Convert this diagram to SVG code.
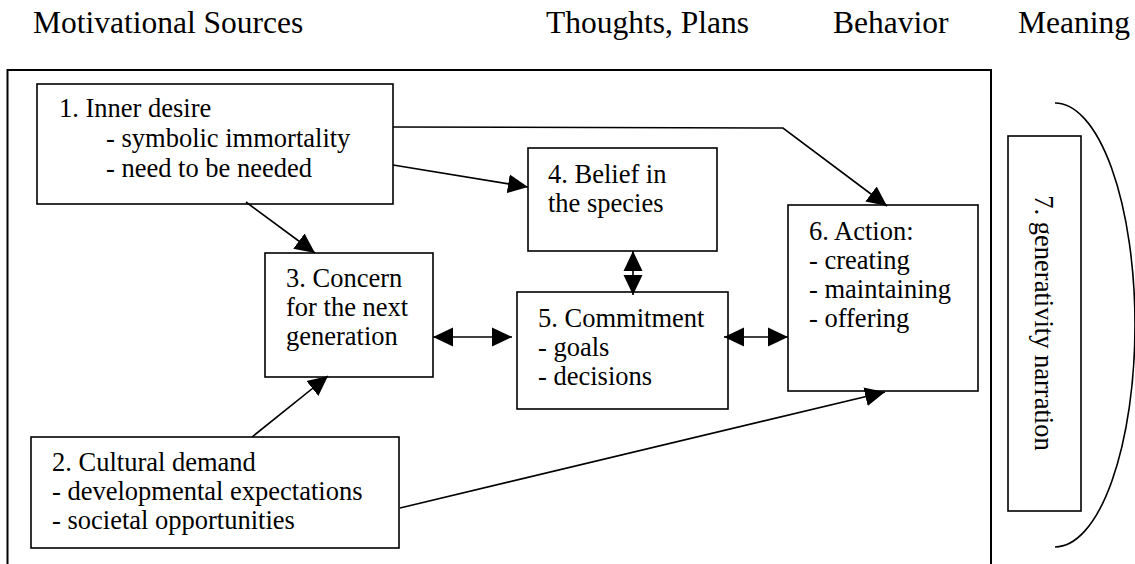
<svg xmlns="http://www.w3.org/2000/svg" width="1135" height="564" viewBox="0 0 1135 564">
  <style>
    text { font-family: "Liberation Serif", "Times New Roman", serif; font-size: 26.5px; fill: #000; }
    .head { font-size: 31.5px; }
    .box { fill: #fff; stroke: #000; stroke-width: 1.6; }
    .frame { fill: none; stroke: #000; stroke-width: 2; }
    .link { fill: none; stroke: #000; stroke-width: 1.6; }
  </style>
  <defs>
    <marker id="head" markerUnits="userSpaceOnUse" markerWidth="20" markerHeight="20" viewBox="0 0 20 20" refX="20" refY="10" orient="auto-start-reverse">
      <path d="M0,0.5 L20,10 L0,19.5 z" fill="#000"/>
    </marker>
  </defs>

  <rect width="1135" height="564" fill="#fff"/>

  <!-- column headings -->
  <g id="headings">
    <text class="head" x="33" y="33">Motivational Sources</text>
    <text class="head" x="546" y="33">Thoughts, Plans</text>
    <text class="head" x="833" y="33">Behavior</text>
    <text class="head" x="1018" y="33">Meaning</text>
  </g>

  <!-- outer frame, open at the bottom -->
  <path class="frame" d="M7.5,570 V70 H991 V570"/>

  <g id="n1">
    <rect class="box" x="37" y="84" width="356" height="120"/>
    <text x="59" y="117">1. Inner desire</text>
    <text x="106" y="147">- symbolic immortality</text>
    <text x="106" y="177">- need to be needed</text>
  </g>

  <g id="n2">
    <rect class="box" x="31" y="437" width="368" height="111"/>
    <text x="52" y="471">2. Cultural demand</text>
    <text x="52" y="500">- developmental expectations</text>
    <text x="52" y="529">- societal opportunities</text>
  </g>

  <g id="n3">
    <rect class="box" x="265" y="253" width="168" height="124"/>
    <text x="286" y="287">3. Concern</text>
    <text x="286" y="316">for the next</text>
    <text x="286" y="345">generation</text>
  </g>

  <g id="n4">
    <rect class="box" x="528" y="148" width="189" height="103"/>
    <text x="548" y="183">4. Belief in</text>
    <text x="548" y="212">the species</text>
  </g>

  <g id="n5">
    <rect class="box" x="517" y="292" width="211" height="117"/>
    <text x="538" y="327">5. Commitment</text>
    <text x="538" y="356">- goals</text>
    <text x="538" y="385">- decisions</text>
  </g>

  <g id="n6">
    <rect class="box" x="788" y="205" width="190" height="186"/>
    <text x="809" y="240">6. Action:</text>
    <text x="809" y="269">- creating</text>
    <text x="809" y="298">- maintaining</text>
    <text x="809" y="327">- offering</text>
  </g>

  <g id="n7">
    <rect class="box" x="1008" y="136" width="73" height="375"/>
    <text transform="translate(1035,323) rotate(90)" text-anchor="middle">7. generativity narration</text>
    <path class="link" d="M1055,103 A80,222 0 0 1 1055,547"/>
  </g>

  <g id="connectors">
    <path class="link" d="M393,127 L783,128 L887,206" marker-end="url(#head)"/>
    <path class="link" d="M393,165 L528,187" marker-end="url(#head)"/>
    <path class="link" d="M246,202 L315,253" marker-end="url(#head)"/>
    <path class="link" d="M252,437 L328,376" marker-end="url(#head)"/>
    <path class="link" d="M400,508 L885,392" marker-end="url(#head)"/>
    <path class="link" d="M433,337 L512,337" marker-start="url(#head)" marker-end="url(#head)"/>
    <path class="link" d="M724,337 L788,337" marker-start="url(#head)" marker-end="url(#head)"/>
    <path class="link" d="M633,251 L633,295" marker-start="url(#head)" marker-end="url(#head)"/>
  </g>
</svg>
